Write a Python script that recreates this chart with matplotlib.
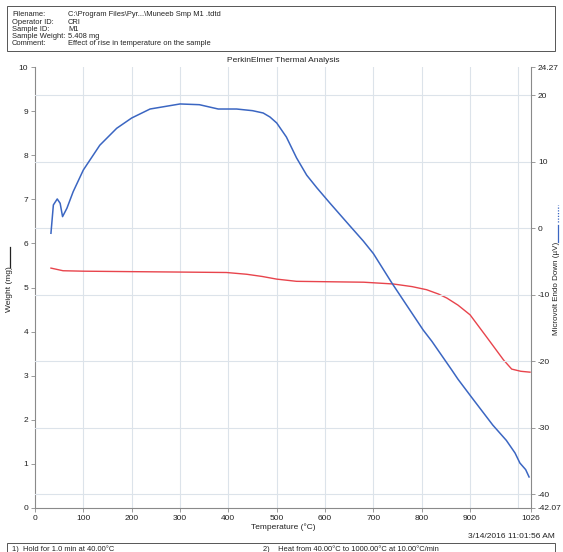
import matplotlib
matplotlib.use("Agg")
import matplotlib.pyplot as plt
from matplotlib.lines import Line2D
from matplotlib.patches import Rectangle

plt.rcParams['font.family'] = ['Liberation Sans', 'DejaVu Sans']

# ---------------- data ----------------
blue_temp = [33, 38, 46, 52, 57, 66, 79, 100, 134, 169, 200, 238, 300, 340, 379, 417,
             450, 472, 486, 500, 520, 541, 562, 583, 610, 651, 679, 700, 738, 770, 803,
             821, 862, 875, 904, 947, 975, 993, 1003, 1015, 1022]
blue_uv = [-0.74, 3.52, 4.42, 3.77, 1.76, 3.02, 5.52, 8.78, 12.5, 15.05, 16.6, 17.95, 18.71,
           18.6, 17.95, 17.95, 17.7, 17.35, 16.75, 15.85, 13.74, 10.6, 8.0, 6.1, 3.8,
           0.4, -1.9, -3.8, -8.2, -11.7, -15.3, -17.0, -21.3, -22.7, -25.5, -29.6, -31.9,
           -33.8, -35.3, -36.3, -37.4]

red_temp = [33, 58, 100, 196, 300, 396, 438, 470, 500, 541, 610, 680, 741, 780, 810,
            835, 852, 875, 900, 934, 969, 986, 1005, 1024]
red_weight = [5.44, 5.38, 5.37, 5.36, 5.35, 5.34, 5.30, 5.25, 5.19, 5.14, 5.13, 5.12,
              5.08, 5.02, 4.95, 4.85, 4.76, 4.60, 4.38, 3.88, 3.36, 3.15, 3.10, 3.08]

x_ticks = [0, 100, 200, 300, 400, 500, 600, 700, 800, 900, 1026]
x_grid = [100, 200, 300, 400, 500, 600, 700, 800, 900, 1000]
left_ticks = [0, 1, 2, 3, 4, 5, 6, 7, 8, 9, 10]
right_ticks = [24.27, 20, 10, 0, -10, -20, -30, -40, -42.07]
right_grid = [20, 10, 0, -10, -20, -30, -40]

header_labels = ["Filename:", "Operator ID:", "Sample ID:", "Sample Weight:", "Comment:"]
header_values = ["C:\\Program Files\\Pyr...\\Muneeb Smp M1 .tdtd", "CRI", "M1",
                 "5.408 mg", "Effect of rise in temperature on the sample"]

# ---------------- figure ----------------
W, H = 563, 552
fig = plt.figure(figsize=(W / 100, H / 100), dpi=100)
fig.patch.set_facecolor("white")

def fx(px):
    return px / W

def fy(py):
    return 1 - py / H

FS = 6
HFS = 5.4
txt_col = "#222222"
grid_col = "#dce3ea"
spine_col = "#8a8a8a"
blue = "#3b66c2"
red = "#e8444c"

ax = fig.add_axes([fx(35), fy(508), fx(531) - fx(35), fy(67) - fy(508)])
ax2 = ax.twinx()

ax.set_xlim(0, 1026)
ax.set_ylim(0, 10)
ax2.set_ylim(-42.07, 24.27)

for g in x_grid:
    ax.axvline(g, color=grid_col, lw=0.8, zorder=0)
for g in right_grid:
    ax2.axhline(g, color=grid_col, lw=0.8, zorder=0)

ax.plot(red_temp, red_weight, color=red, lw=1.0, zorder=3)
ax2.plot(blue_temp, blue_uv, color=blue, lw=1.1, zorder=3)

ax.set_xticks(x_ticks)
ax.set_xticklabels([str(t) for t in x_ticks], fontsize=FS)
ax.set_yticks(left_ticks)
ax.set_yticklabels([str(t) for t in left_ticks], fontsize=FS)
ax2.set_yticks(right_ticks)
ax2.set_yticklabels(["24.27", "20", "10", "0", "-10", "-20", "-30", "-40", "-42.07"], fontsize=FS)

for a in (ax, ax2):
    a.tick_params(length=3, width=0.6, color=spine_col, pad=2, labelcolor=txt_col)
    for s in a.spines.values():
        s.set_color(spine_col)
        s.set_linewidth(0.8)
    a.spines["top"].set_visible(False)
ax.spines["right"].set_visible(False)
ax2.spines["left"].set_visible(False)
ax2.spines["bottom"].set_visible(False)
ax.set_facecolor("none")

ax.set_xlabel("Temperature (°C)", fontsize=FS, labelpad=1, color=txt_col)
fig.text(fx(283), fy(61), "PerkinElmer Thermal Analysis", fontsize=FS, ha="center",
         va="center", color=txt_col)

# axis labels with line symbols
fig.text(fx(10), fy(289), "Weight (mg)", rotation=90, fontsize=FS, ha="center",
         va="center", color=txt_col)
fig.add_artist(Line2D([fx(10), fx(10)], [fy(267), fy(247)], color=txt_col, lw=0.9,
                      transform=fig.transFigure))
fig.text(fx(557), fy(288), "Microvolt Endo Down (µV)", rotation=90, fontsize=5.8,
         ha="center", va="center", color=txt_col)
fig.add_artist(Line2D([fx(558), fx(558)], [fy(242), fy(225)], color=blue, lw=0.9,
                      transform=fig.transFigure))
fig.add_artist(Line2D([fx(558), fx(558)], [fy(222), fy(205)], color=blue, lw=0.9,
                      ls=(0, (1, 1.2)), transform=fig.transFigure))

# header box
fig.add_artist(Rectangle((fx(7), fy(51)), fx(555) - fx(7), fy(6) - fy(51),
                         transform=fig.transFigure, fill=False, ec="#555555", lw=0.7))
header_rows = [14.7, 22.0, 29.2, 36.4, 43.6]
for yy, lab, val in zip(header_rows, header_labels, header_values):
    fig.text(fx(12), fy(yy), lab, fontsize=HFS, va="center", ha="left", color=txt_col)
    fig.text(fx(68), fy(yy), val, fontsize=HFS, va="center", ha="left", color=txt_col)

# footer
fig.text(fx(555), fy(537), "3/14/2016 11:01:56 AM", fontsize=FS, ha="right",
         va="center", color=txt_col)
fig.add_artist(Rectangle((fx(7), fy(560)), fx(555) - fx(7), fy(543) - fy(560),
                         transform=fig.transFigure, fill=False, ec="#555555", lw=0.7,
                         clip_on=False))
fig.text(fx(12), fy(549), "1)  Hold for 1.0 min at 40.00°C", fontsize=HFS, va="center",
         ha="left", color=txt_col)
fig.text(fx(263), fy(549), "2)    Heat from 40.00°C to 1000.00°C at 10.00°C/min",
         fontsize=HFS, va="center", ha="left", color=txt_col)

fig.savefig("out.png", dpi=100, facecolor="white")
